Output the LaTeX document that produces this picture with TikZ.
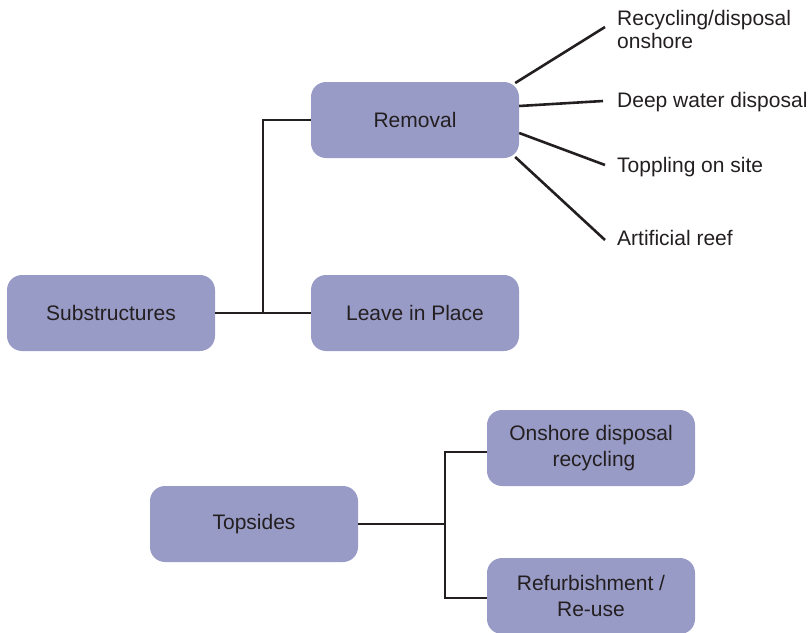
\documentclass[tikz,border=0pt]{standalone}
\usepackage{fontspec}
\setmainfont{Liberation Sans}
\usetikzlibrary{calc}
\definecolor{boxfill}{RGB}{153,155,199}
\definecolor{txt}{RGB}{35,31,32}
\begin{document}
\begin{tikzpicture}[x=1pt,y=-1pt,
  box/.style={rectangle, rounded corners=15pt, fill=boxfill, minimum width=208pt, minimum height=76pt, inner sep=0pt, align=center, text=txt, font=\fontsize{21}{26}\selectfont},
  lab/.style={anchor=west, inner sep=0pt, align=left, text=txt, font=\fontsize{21}{23}\selectfont},
  conn/.style={draw=txt, line width=2.6pt}]
\useasboundingbox (0,0) rectangle (811,632);
% boxes
\node[box] (sub) at (111,313) {Substructures};
\node[box] (rem) at (415,120) {Removal};
\node[box] (lip) at (415,313) {Leave in Place};
\node[box] (top) at (254,524) {Topsides};
\node[box] (ons) at (591,448) {\raisebox{-3pt}{\parbox{200pt}{\centering Onshore disposal\\\hspace*{6pt}recycling}}};
\node[box] (ref) at (591,596) {\raisebox{-3pt}{\parbox{200pt}{\centering Refurbishment /\\Re-use}}};
% labels
\node[lab] (l1) at (617,29) {Recycling/disposal\\onshore};
\node[lab] (l2) at (617,102) {Deep water disposal};
\node[lab] (l3) at (617,167) {Toppling on site};
\node[lab] (l4) at (617,238) {Artificial reef};
% connector coordinates
\coordinate (j1) at (263,313);
\coordinate (j2) at (445,524);
\coordinate (e1) at (605,27);
\coordinate (e2) at (603,101);
\coordinate (e3) at (605,165);
\coordinate (e4) at (605,240);
% substructures tree
\draw[conn] (sub.east) -- (lip.west);
\draw[conn] (j1) |- (rem.west);
% topsides tree
\draw[conn] (top.east) -- (j2);
\draw[conn] (ons.west |- 0,452) -| (j2) |- (ref.west |- 0,598);
% removal fan
\draw[conn] ($(rem.east)+(-4,-37)$) -- (e1);
\draw[conn] ($(rem.east)+(0,-14)$) -- (e2);
\draw[conn] ($(rem.east)+(0,13)$) -- (e3);
\draw[conn] ($(rem.east)+(-4,37)$) -- (e4);
\end{tikzpicture}
\end{document}
